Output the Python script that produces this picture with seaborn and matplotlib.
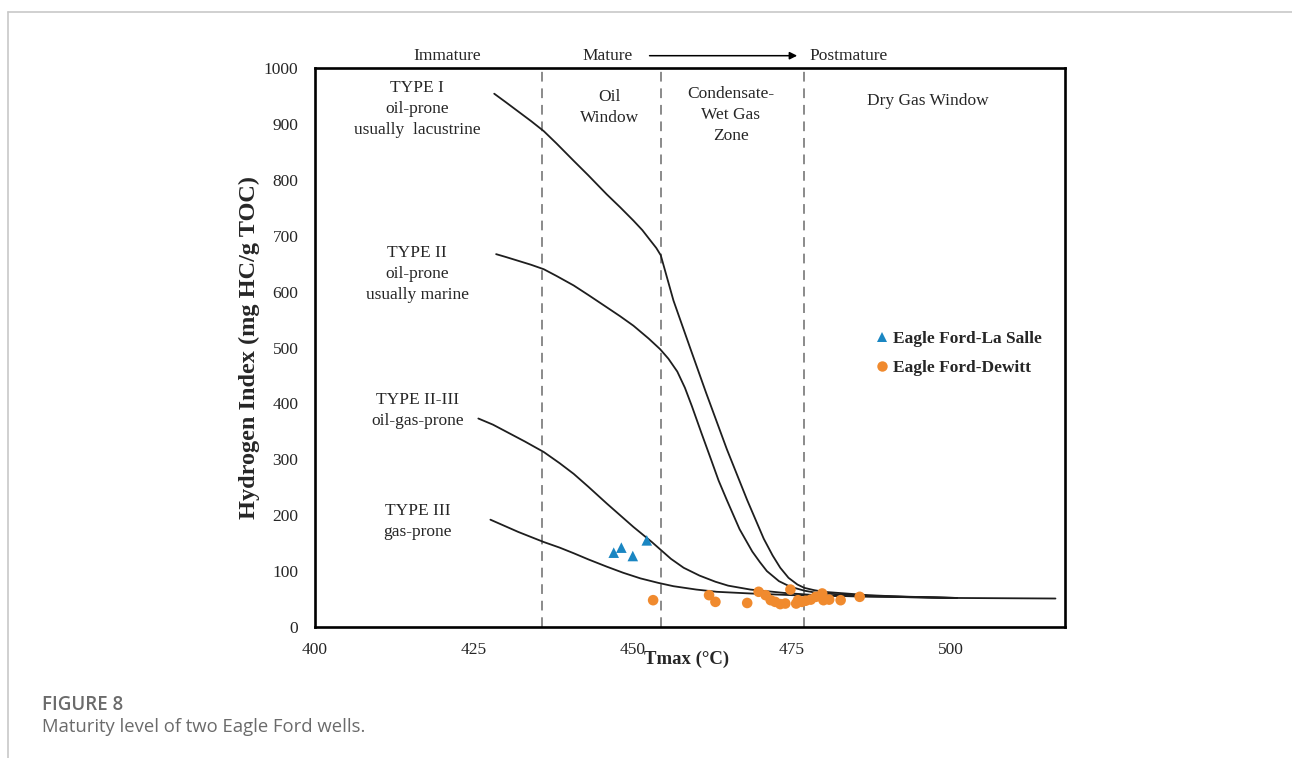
import numpy as np
import pandas as pd
import matplotlib
matplotlib.use("Agg")
import matplotlib.pyplot as plt
import seaborn as sns

# kerogen type curves (Tmax, HI)
type1_x = [428.2, 430.0, 432.0, 434.0, 436.0, 438.0, 440.7, 443.0, 445.9, 448.0, 450.1, 451.5,
           452.8, 453.7, 454.4, 456.4, 459.0, 461.5, 464.8, 468.0, 470.6, 472.0, 473.2, 474.5,
           475.9, 477.0, 478.5, 480.0, 487.0, 493.0, 501.0]
type1_y = [954, 939, 922, 905, 887, 865, 834, 808, 774, 751, 727, 710,
           691, 678, 665, 584, 500, 420, 318, 227, 158, 128, 106, 88,
           76, 70, 66, 63, 57, 54, 52]

type2_x = [428.5, 430.0, 432.0, 434.0, 436.0, 438.0, 440.7, 443.0, 445.9, 448.0, 450.1, 452.5,
           454.3, 455.6, 457.0, 458.2, 459.3, 460.8, 462.3, 463.5, 464.8, 466.8, 468.8, 470.0,
           471.1, 473.0, 474.8, 477.0, 479.0, 483.0, 487.0, 494.0, 501.0]
type2_y = [667, 662, 655, 648, 640, 628, 611, 594, 572, 556, 539, 516,
           497, 480, 457, 428, 395, 347, 300, 262, 227, 175, 135, 116,
           100, 82, 72, 65, 61, 58, 56, 54, 52]

type23_x = [425.7, 428.0, 430.0, 433.0, 436.0, 438.5, 440.7, 443.0, 445.9, 448.0, 450.1, 453.0,
            456.0, 458.0, 460.5, 463.0, 465.0, 468.5, 473.8, 480.0, 490.0, 501.0]
type23_y = [373, 362, 350, 332, 313, 293, 274, 251, 221, 200, 179, 152,
            122, 106, 92, 81, 74, 67, 61, 56, 54, 52]

type3_x = [427.6, 430.0, 432.0, 434.0, 436.0, 438.5, 440.7, 443.0, 445.9, 448.5, 451.2, 454.0,
           456.4, 460.0, 463.2, 468.5, 475.0, 485.0, 500.0, 516.5]
type3_y = [192, 180, 170, 161, 152, 142, 132, 121, 108, 97, 87, 79,
           73, 67, 63, 60, 57, 55, 52, 51]

# samples
lasalle_tmax = [447.0, 448.2, 450.0, 452.2]
lasalle_hi = [133, 142, 127, 155]

dewitt_tmax = [453.2, 462.0, 463.0, 468.0, 469.8, 470.9, 471.7, 472.4, 473.2, 474.0, 474.8,
               475.7, 476.0, 476.6, 477.2, 478.0, 478.8, 479.8, 480.0, 480.9, 482.7, 485.7]
dewitt_hi = [48, 57, 45, 43, 63, 57, 48, 45, 41, 42, 67,
             42, 48, 45, 47, 49, 54, 60, 48, 49, 48, 54]

# maturity boundaries
boundaries = [435.7, 454.5, 477.0]

curves = pd.concat([
    pd.DataFrame({"tmax": type1_x, "hi": type1_y, "type": "I"}),
    pd.DataFrame({"tmax": type2_x, "hi": type2_y, "type": "II"}),
    pd.DataFrame({"tmax": type23_x, "hi": type23_y, "type": "II-III"}),
    pd.DataFrame({"tmax": type3_x, "hi": type3_y, "type": "III"}),
], ignore_index=True)

samples = pd.concat([
    pd.DataFrame({"tmax": lasalle_tmax, "hi": lasalle_hi, "well": "Eagle Ford-La Salle"}),
    pd.DataFrame({"tmax": dewitt_tmax, "hi": dewitt_hi, "well": "Eagle Ford-Dewitt"}),
], ignore_index=True)

sns.set_style("white")
plt.rcParams["font.family"] = ["Liberation Serif", "DejaVu Serif"]

fig = plt.figure(figsize=(12.92, 7.58), dpi=100)
ax = fig.add_axes([0.2438, 0.1728, 0.5805, 0.7375])

# boundaries
for b in boundaries:
    ax.axvline(b, color="#8a8a8a", linestyle=(0, (5, 3.5)), linewidth=1.4, zorder=1)

sns.lineplot(data=curves, x="tmax", y="hi", units="type", estimator=None, sort=False,
             color="#1e1e1e", linewidth=1.3, ax=ax, legend=False, zorder=2)

sns.scatterplot(data=samples, x="tmax", y="hi", hue="well", style="well",
                palette={"Eagle Ford-La Salle": "#1a86c2", "Eagle Ford-Dewitt": "#f08a2e"},
                markers={"Eagle Ford-La Salle": "^", "Eagle Ford-Dewitt": "o"},
                s=58, linewidth=0, ax=ax, zorder=3)

ax.set_xlim(400, 518)
ax.set_ylim(0, 1000)
ax.set_xticks([400, 425, 450, 475, 500])
ax.set_yticks(np.arange(0, 1001, 100))
ax.tick_params(length=0, labelsize=12.5)
ax.tick_params(axis="x", pad=11)
ax.tick_params(axis="y", pad=12)
for sp in ax.spines.values():
    sp.set_visible(True)
    sp.set_color("black")
    sp.set_linewidth(1.9)

ax.set_xlabel("")
ax.set_ylabel("Hydrogen Index (mg HC/g TOC)", fontsize=17.5, fontweight="bold", labelpad=3)
ax.text(0.496, -0.058, "Tmax (\u00b0C)", transform=ax.transAxes, ha="center", va="center",
        fontsize=13.5, fontweight="bold")

# kerogen labels
ls = 1.42
ax.text(416.1, 927, "TYPE I\noil-prone\nusually  lacustrine", ha="center", va="center", fontsize=12.5, linespacing=ls)
ax.text(416.1, 632, "TYPE II\noil-prone\nusually marine", ha="center", va="center", fontsize=12.5, linespacing=ls)
ax.text(416.1, 387, "TYPE II-III\noil-gas-prone", ha="center", va="center", fontsize=12.5, linespacing=ls)
ax.text(416.1, 188, "TYPE III\ngas-prone", ha="center", va="center", fontsize=12.5, linespacing=ls)

# zones
ax.text(446.3, 930, "Oil\nWindow", ha="center", va="center", fontsize=12.5, linespacing=ls)
ax.text(465.4, 916, "Condensate-\nWet Gas\nZone", ha="center", va="center", fontsize=12.5, linespacing=ls)
ax.text(496.4, 941, "Dry Gas Window", ha="center", va="center", fontsize=12.5)

# maturity header
ax.text(420.8, 1022, "Immature", ha="center", va="center", fontsize=12.5, clip_on=False)
ax.text(446.1, 1022, "Mature", ha="center", va="center", fontsize=12.5, clip_on=False)
ax.text(484.0, 1022, "Postmature", ha="center", va="center", fontsize=12.5, clip_on=False)
ax.annotate("", xy=(476.3, 1022), xytext=(452.2, 1022), annotation_clip=False,
            arrowprops=dict(arrowstyle="-|>", color="black", lw=1.1, mutation_scale=11))

# legend
leg = ax.legend(loc="upper left", bbox_to_anchor=(0.733, 0.542), frameon=False,
                handletextpad=0.05, handlelength=1.2, borderaxespad=0, labelspacing=0.72,
                prop={"weight": "bold", "size": 12.5})
for h in leg.legend_handles:
    h.set_markersize(7.5)

# page frame + caption
fig.add_artist(plt.Line2D([8 / 1292, 1], [1 - 12 / 758, 1 - 12 / 758], color="#c8c8c8", lw=1.2))
fig.add_artist(plt.Line2D([8 / 1292, 8 / 1292], [0, 1 - 12 / 758], color="#c8c8c8", lw=1.2))
fig.text(42 / 1292, 1 - 705 / 758, "FIGURE 8", ha="left", va="center", fontsize=13.5,
         color="#6b6b6b", family=["Open Sans", "DejaVu Sans"], fontweight="semibold")
fig.text(42 / 1292, 1 - 727 / 758, "Maturity level of two Eagle Ford wells.", ha="left", va="center",
         fontsize=13.3, color="#6b6b6b", family=["Open Sans", "DejaVu Sans"])

fig.savefig("out.png", dpi=100)
